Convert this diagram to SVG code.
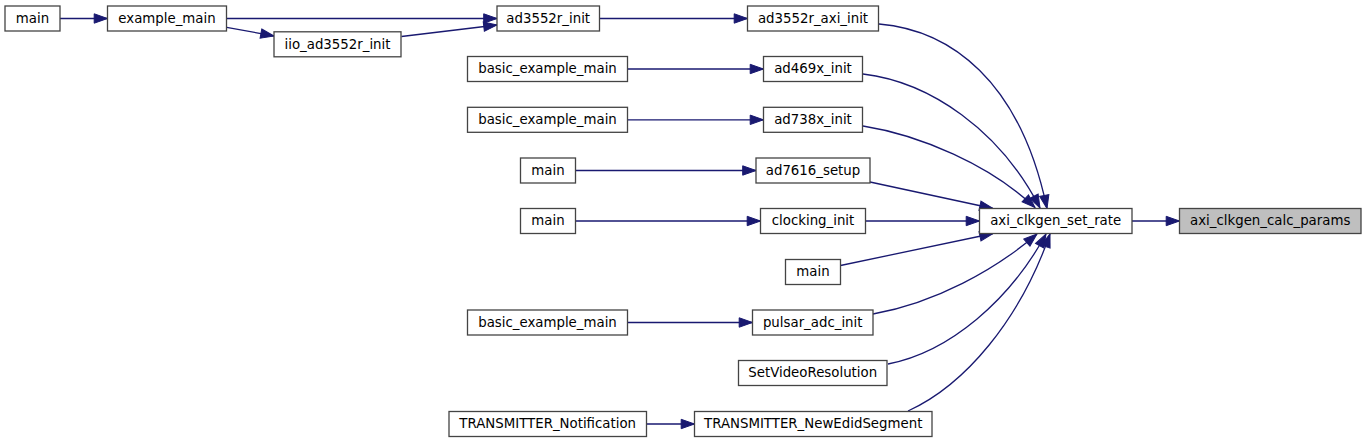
<svg xmlns="http://www.w3.org/2000/svg" width="1367" height="443" viewBox="0 0 1367 443">
<style>
.n rect{fill:#ffffff;stroke:#444444;stroke-width:1.3}
.n rect.root{fill:#bfbfbf}
.n text{font-family:"DejaVu Sans",Verdana,sans-serif;font-size:13.33px;fill:#000000;text-anchor:middle}
.e path{fill:none;stroke:#191970;stroke-width:1.3;marker-end:url(#arr)}
</style>
<defs>
<marker id="arr" markerUnits="userSpaceOnUse" markerWidth="15" markerHeight="11" refX="13.3" refY="4.7" orient="auto" overflow="visible">
<path d="M0,0 L13.3,4.7 L0,9.4 z" fill="#191970" stroke="#191970" stroke-width="1"/>
</marker>
</defs>
<rect width="1367" height="443" fill="#ffffff"/>
<g id="edges" class="e">
<path d="M60,18.5 L107.5,18.5"/>
<path d="M226.5,18.5 L497,18.5"/>
<path d="M226.7,27.3 L274,36"/>
<path d="M401.5,36.5 L497,25"/>
<path d="M599.5,18.5 L747.5,18.5"/>
<path d="M627.5,69 L763.5,69"/>
<path d="M627.5,119.8 L763.5,119.8"/>
<path d="M575.5,170.5 L756,170.5"/>
<path d="M575.5,221 L760.5,221"/>
<path d="M627.5,322.5 L752.5,322.5"/>
<path d="M1132,221 L1179.5,221"/>
<path d="M646.5,424 L694.5,424"/>
<path d="M870,182 L993,208.5"/>
<path d="M865.5,221 L979.5,221"/>
<path d="M840.5,265.5 L993,233.5"/>
<path d="M879,24 C950,30 1020,80 1047,208.5"/>
<path d="M863,74 C930,82 1000,130 1040,208"/>
<path d="M863,126 C920,135 990,165 1035,207.5"/>
<path d="M873,314 C935,303 995,270 1037,234"/>
<path d="M888,364 C950,352 1010,300 1046,234"/>
<path d="M908,411 C965,385 1020,320 1050,234"/>
</g>
<g id="node_main_a" class="n"><rect x="5" y="6" width="55" height="25"/><text x="32.5" y="22.8">main</text></g>
<g id="node_example_main" class="n"><rect x="107.5" y="6" width="119" height="25"/><text x="167" y="22.8">example_main</text></g>
<g id="node_iio_ad3552r_init" class="n"><rect x="274" y="31.8" width="127" height="25"/><text x="337.5" y="48.6">iio_ad3552r_init</text></g>
<g id="node_ad3552r_init" class="n"><rect x="497" y="6" width="102.5" height="25"/><text x="548.2" y="22.8">ad3552r_init</text></g>
<g id="node_ad3552r_axi_init" class="n"><rect x="747.5" y="6" width="131" height="25"/><text x="813" y="22.8">ad3552r_axi_init</text></g>
<g id="node_basic1" class="n"><rect x="467.5" y="56.5" width="160" height="25"/><text x="547.5" y="73.3">basic_example_main</text></g>
<g id="node_ad469x_init" class="n"><rect x="763.5" y="56.5" width="99" height="25"/><text x="813" y="73.3">ad469x_init</text></g>
<g id="node_basic2" class="n"><rect x="467.5" y="107.3" width="160" height="25"/><text x="547.5" y="124.1">basic_example_main</text></g>
<g id="node_ad738x_init" class="n"><rect x="763.5" y="107.3" width="99" height="25"/><text x="813" y="124.1">ad738x_init</text></g>
<g id="node_main_b" class="n"><rect x="520.5" y="158" width="55" height="25"/><text x="548" y="174.8">main</text></g>
<g id="node_ad7616_setup" class="n"><rect x="756" y="158" width="114" height="25"/><text x="813" y="174.8">ad7616_setup</text></g>
<g id="node_main_c" class="n"><rect x="520.5" y="208.5" width="55" height="25"/><text x="548" y="225.3">main</text></g>
<g id="node_clocking_init" class="n"><rect x="760.5" y="208.5" width="105" height="25"/><text x="813" y="225.3">clocking_init</text></g>
<g id="node_main_d" class="n"><rect x="785.5" y="259.5" width="55" height="25"/><text x="813" y="276.3">main</text></g>
<g id="node_axi_clkgen_set_rate" class="n"><rect x="979.5" y="208.5" width="152.5" height="25"/><text x="1055.7" y="225.3">axi_clkgen_set_rate</text></g>
<g id="node_axi_clkgen_calc_params" class="n"><rect class="root" x="1179.5" y="208.5" width="181.5" height="25"/><text x="1270.2" y="225.3">axi_clkgen_calc_params</text></g>
<g id="node_basic3" class="n"><rect x="467.5" y="310" width="160" height="25"/><text x="547.5" y="326.8">basic_example_main</text></g>
<g id="node_pulsar_adc_init" class="n"><rect x="752.5" y="310" width="120.5" height="25"/><text x="812.7" y="326.8">pulsar_adc_init</text></g>
<g id="node_SetVideoResolution" class="n"><rect x="738.5" y="360.5" width="148.5" height="25"/><text x="812.7" y="377.3">SetVideoResolution</text></g>
<g id="node_TRANSMITTER_Notification" class="n"><rect x="449" y="411.5" width="197.5" height="25"/><text x="547.7" y="428.3">TRANSMITTER_Notification</text></g>
<g id="node_TRANSMITTER_NewEdidSegment" class="n"><rect x="694.5" y="411.5" width="237.5" height="25"/><text x="813.2" y="428.3">TRANSMITTER_NewEdidSegment</text></g>
</svg>
